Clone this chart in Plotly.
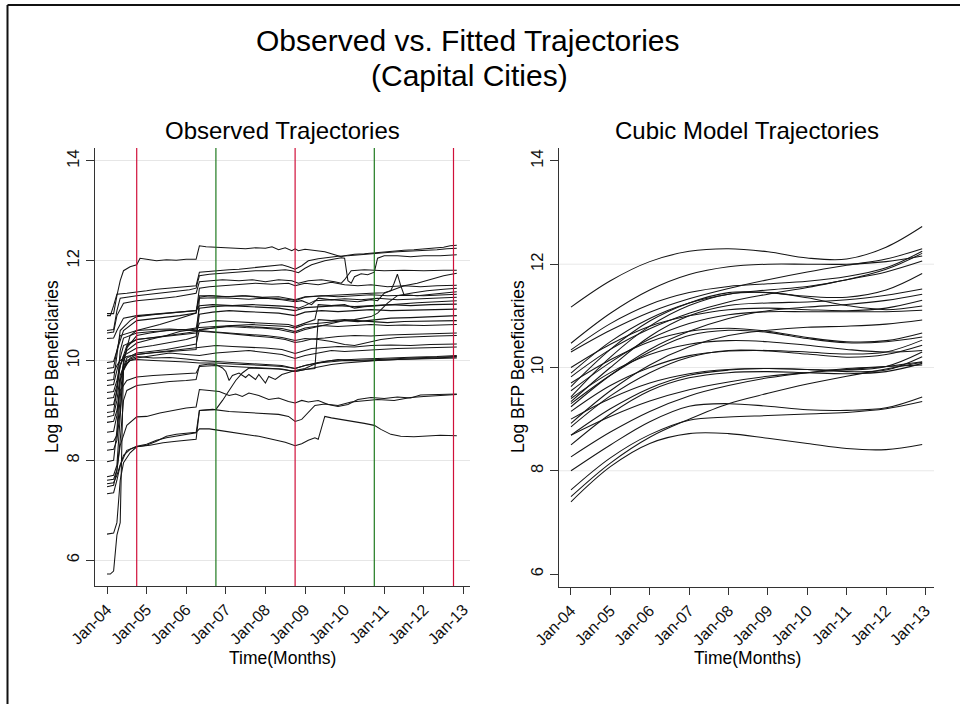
import plotly.graph_objects as go

# ---------------- data ----------------
year_ticks = [0, 12, 24, 36, 48, 60, 72, 84, 96, 108]          # months since Jan-2004
year_labels = ["Jan-04", "Jan-05", "Jan-06", "Jan-07", "Jan-08",
               "Jan-09", "Jan-10", "Jan-11", "Jan-12", "Jan-13"]
y_ticks = [6, 8, 10, 12, 14]
municipal_elections = [9, 57, 105]   # Oct-04, Oct-08, Oct-12 (red)
general_elections = [33, 81]         # Oct-06, Oct-10 (green)

# observed trajectories: (month index, log beneficiaries)
obs_A = [(0,10.94),(2,10.94),(3,11.3),(4,11.6),(5,11.8),(7,11.88),(9,11.92),(10,12.05),(12,12.03),(15,12.0),(18,12.02),(21,12.01),(24,12.03),(27,12.03),(28,12.3),(30,12.28),(33,12.27),(36,12.26),(39,12.25),(42,12.24),(45,12.26),(48,12.25),(50,12.28),(52,12.22),(54,12.26),(56,12.2),(57,12.24),(58,12.2),(60,12.23),(63,12.2),(66,12.18),(69,12.12),(71,12.08),(72,12.1),(75,12.13),(78,12.14),(81,12.16),(84,12.18),(87,12.2),(90,12.21),(93,12.22),(96,12.24),(99,12.25),(102,12.27),(104,12.3),(106,12.31)]
obs_B = [(0,10.9),(1,10.9),(2,11.1),(3,11.33),(6,11.35),(9,11.37),(12,11.4),(15,11.43),(18,11.45),(21,11.46),(24,11.48),(27,11.5),(28,11.77),(31,11.79),(34,11.8),(37,11.82),(40,11.83),(43,11.85),(46,11.86),(50,11.9),(53,11.92),(55,11.88),(57,11.83),(59,11.9),(61,12.0),(64,12.04),(67,12.07),(70,12.09),(73,12.1),(76,12.12),(80,12.14),(84,12.16),(88,12.18),(92,12.19),(96,12.21),(100,12.22),(103,12.24),(106,12.25)]
obs_C = [(0,10.6),(2,10.62),(3,11.0),(4,11.25),(9,11.3),(13,11.33),(17,11.36),(21,11.38),(25,11.42),(27,11.45),(28,11.7),(31,11.73),(35,11.75),(40,11.78),(45,11.8),(50,11.8),(54,11.82),(56,11.8),(58,11.76),(60,11.85),(62,11.92),(66,12.0),(69,12.04),(71,12.06),(72,12.05),(73,11.6),(74,11.55),(75,11.68),(77,11.74),(79,11.72),(81,11.77),(82,12.05),(84,12.1),(88,12.1),(92,12.08),(96,12.1),(101,12.1),(106,12.12)]
obs_D = [(0,10.55),(2,10.57),(3,10.9),(5,11.15),(9,11.2),(13,11.22),(17,11.25),(21,11.28),(25,11.32),(27,11.35),(28,11.58),(31,11.6),(35,11.62),(40,11.6),(44,11.62),(48,11.58),(52,11.62),(56,11.6),(58,11.55),(61,11.6),(65,11.62),(69,11.58),(71,11.55),(72,11.62),(74,11.8),(78,11.82),(84,11.8),(90,11.81),(96,11.8),(102,11.81),(106,11.81)]
obs_E = [(0,10.44),(2,10.45),(3,10.6),(5,10.85),(9,10.9),(13,10.92),(18,10.95),(22,10.98),(27,11.0),(28,11.1),(32,11.12),(38,11.1),(44,11.12),(50,11.1),(56,11.08),(58,11.05),(60,11.1),(63,11.2),(68,11.22),(72,11.2),(76,11.18),(80,11.22),(82,11.2),(84,11.35),(87,11.42),(90,11.5),(94,11.55),(98,11.62),(102,11.7),(106,11.75)]
obs_F = [(0,9.96),(2,9.98),(3,10.2),(4,10.5),(9,10.6),(12,10.65),(16,10.72),(20,10.8),(24,10.88),(27,10.95),(28,11.45),(31,11.48),(35,11.5),(40,11.52),(45,11.55),(50,11.53),(55,11.55),(57,11.5),(60,11.55),(64,11.52),(68,11.57),(72,11.52),(76,11.5),(80,11.52),(85,11.48),(90,11.5),(95,11.48),(100,11.5),(106,11.51)]
obs_G = [(0,9.84),(2,9.86),(3,10.2),(5,10.6),(9,10.8),(13,10.83),(18,10.86),(22,10.9),(27,10.95),(28,11.3),(32,11.3),(37,11.28),(42,11.3),(47,11.27),(52,11.28),(57,11.22),(60,11.28),(65,11.3),(70,11.32),(75,11.33),(80,11.35),(84,11.36),(86,11.4),(87,11.55),(88,11.73),(89,11.5),(90,11.32),(94,11.3),(98,11.33),(102,11.35),(106,11.38)]
obs_H = [(0,9.74),(2,9.76),(3,9.9),(4,10.0),(6,10.08),(9,10.12),(13,10.15),(18,10.18),(23,10.2),(27,10.22),(28,11.27),(31,11.3),(36,11.28),(41,11.3),(46,11.27),(51,11.25),(56,11.22),(57,11.2),(60,11.27),(65,11.3),(70,11.28),(75,11.3),(80,11.32),(85,11.3),(90,11.31),(96,11.3),(101,11.32),(106,11.33)]
obs_I = [(0,9.6),(2,9.62),(3,10.1),(4,10.6),(7,10.8),(9,10.88),(14,10.92),(19,10.95),(24,10.97),(27,11.0),(28,11.25),(33,11.26),(38,11.25),(43,11.23),(48,11.25),(53,11.22),(57,11.18),(59,11.2),(62,11.12),(64,11.25),(68,11.22),(72,11.24),(77,11.22),(82,11.25),(88,11.22),(94,11.24),(100,11.25),(106,11.27)]
obs_J = [(0,9.5),(2,9.52),(3,9.8),(5,10.3),(9,10.42),(14,10.46),(19,10.5),(24,10.53),(27,10.55),(28,10.75),(33,10.8),(38,10.78),(44,10.76),(50,10.75),(55,10.72),(57,10.68),(60,10.75),(62,10.8),(63,10.82),(64,11.12),(68,11.1),(72,11.12),(75,11.05),(78,11.08),(82,11.1),(88,11.14),(94,11.16),(100,11.18),(106,11.2)]
obs_K = [(0,9.36),(2,9.38),(3,9.6),(4,9.9),(6,10.2),(9,10.35),(13,10.42),(18,10.5),(22,10.58),(27,10.63),(28,11.05),(32,11.08),(37,11.1),(42,11.08),(47,11.06),(52,11.05),(57,11.0),(60,11.06),(65,11.08),(70,11.1),(75,11.08),(80,11.1),(86,11.12),(92,11.1),(98,11.12),(106,11.13)]
obs_L = [(0,9.24),(2,9.26),(3,9.5),(4,9.9),(5,10.1),(9,10.25),(14,10.3),(19,10.36),(24,10.42),(27,10.48),(28,10.93),(32,10.97),(37,11.0),(42,10.98),(47,10.96),(52,10.95),(57,10.9),(60,10.97),(65,11.0),(70,10.98),(75,11.0),(80,11.02),(86,11.0),(92,11.01),(98,11.02),(106,11.03)]
obs_Z = [(0,9.1),(2,9.12),(3,9.4),(4,9.9),(6,10.3),(9,10.42),(14,10.46),(19,10.5),(24,10.55),(27,10.58),(29,10.62),(33,10.66),(38,10.7),(44,10.72),(50,10.7),(55,10.68),(57,10.65),(60,10.72),(65,10.75),(70,10.78),(75,10.82),(80,10.88),(82,10.95),(85,11.15),(88,11.3),(92,11.35),(97,11.4),(102,11.43),(106,11.45)]
obs_N = [(0,8.96),(2,8.98),(3,9.4),(4,10.2),(5,10.45),(9,10.55),(14,10.58),(19,10.6),(24,10.62),(28,10.66),(33,10.68),(38,10.7),(43,10.68),(48,10.66),(53,10.64),(57,10.58),(60,10.65),(65,10.7),(70,10.68),(75,10.7),(80,10.72),(85,10.7),(90,10.71),(96,10.7),(101,10.71),(106,10.72)]
obs_AA = [(0,8.87),(2,8.9),(3,9.2),(4,9.7),(6,10.05),(9,10.15),(13,10.18),(18,10.22),(23,10.28),(27,10.33),(28,10.62),(32,10.65),(37,10.68),(42,10.66),(47,10.65),(52,10.62),(57,10.55),(60,10.62),(64,10.68),(68,10.75),(72,10.8),(76,10.78),(81,10.82),(86,10.85),(92,10.86),(98,10.88),(106,10.9)]
obs_M = [(0,8.76),(2,8.78),(3,9.0),(4,9.4),(6,9.6),(9,9.67),(14,9.7),(19,9.72),(24,9.74),(27,9.75),(28,9.88),(33,9.9),(38,9.88),(43,9.86),(48,9.85),(53,9.83),(57,9.78),(60,9.82),(63,9.84),(64,10.82),(68,10.8),(72,10.82),(76,10.8),(81,10.78),(85,10.76),(90,10.78),(96,10.79),(101,10.8),(106,10.8)]
obs_O = [(0,8.56),(2,8.58),(3,8.9),(4,9.6),(6,10.25),(9,10.5),(13,10.55),(18,10.6),(22,10.62),(27,10.6),(31,10.57),(35,10.55),(40,10.52),(45,10.5),(50,10.46),(54,10.42),(57,10.36),(59,10.38),(62,10.43),(66,10.45),(70,10.48),(75,10.5),(80,10.49),(85,10.51),(90,10.52),(96,10.53),(101,10.54),(106,10.55)]
obs_P = [(0,8.36),(2,8.38),(3,8.5),(4,9.2),(5,10.0),(7,10.5),(9,10.6),(14,10.62),(19,10.63),(24,10.61),(28,10.6),(33,10.57),(38,10.55),(43,10.52),(48,10.5),(53,10.46),(57,10.4),(60,10.44),(64,10.42),(68,10.38),(72,10.32),(75,10.3),(79,10.36),(83,10.42),(88,10.46),(94,10.48),(100,10.49),(106,10.5)]
obs_Q = [(0,8.2),(2,8.22),(3,8.4),(4,9.0),(5,9.8),(7,10.05),(9,10.12),(14,10.16),(19,10.2),(24,10.24),(28,10.27),(33,10.3),(38,10.28),(43,10.27),(48,10.25),(53,10.22),(57,10.14),(59,10.18),(62,10.24),(66,10.26),(70,10.28),(75,10.27),(80,10.3),(86,10.31),(92,10.3),(98,10.32),(106,10.33)]
obs_Y = [(0,7.97),(2,8.0),(3,8.6),(4,9.6),(6,10.0),(9,10.08),(14,10.05),(19,10.06),(24,10.03),(28,10.0),(33,9.98),(38,9.96),(43,9.94),(48,9.92),(53,9.9),(57,9.84),(60,9.9),(64,9.95),(68,9.98),(72,10.0),(77,9.99),(82,10.01),(88,10.02),(94,10.03),(100,10.04),(106,10.05)]
obs_R = [(0,7.67),(2,7.7),(3,7.9),(4,9.0),(5,9.85),(7,10.0),(9,10.05),(14,10.1),(19,10.15),(24,10.12),(28,10.1),(33,10.15),(38,10.18),(43,10.2),(48,10.16),(53,10.12),(57,10.04),(60,10.1),(64,10.15),(68,10.2),(72,10.18),(77,10.2),(82,10.22),(88,10.24),(94,10.25),(100,10.26),(106,10.27)]
obs_S = [(0,5.72),(1,5.72),(2,5.78),(3,6.5),(4,6.75),(5,9.9),(7,10.0),(9,10.02),(14,10.0),(19,9.99),(24,9.97),(28,9.95),(33,9.95),(38,9.93),(43,9.92),(48,9.9),(53,9.88),(57,9.84),(60,9.9),(64,9.96),(68,10.0),(72,10.02),(77,10.03),(82,10.04),(88,10.06),(94,10.07),(100,10.08),(106,10.1)]
obs_T = [(0,7.6),(2,7.62),(3,7.8),(4,8.4),(5,9.2),(6,9.4),(9,9.5),(14,9.54),(19,9.58),(24,9.6),(27,9.62),(28,9.9),(31,9.93),(33,9.92),(35,9.85),(36,9.78),(37,9.6),(38,9.7),(40,9.75),(42,9.66),(43,9.72),(45,9.62),(46,9.72),(48,9.55),(49,9.68),(51,9.62),(53,9.72),(55,9.76),(57,9.8),(60,9.84),(63,9.93),(66,9.98),(70,10.02),(75,10.0),(80,10.01),(86,10.03),(92,10.05),(98,10.06),(106,10.08)]
obs_U = [(0,7.53),(2,7.55),(3,7.7),(4,7.9),(5,8.1),(7,8.22),(9,8.28),(12,8.32),(15,8.4),(18,8.45),(21,8.48),(24,8.52),(27,8.55),(28,9.0),(33,9.02),(35,9.2),(37,9.4),(39,9.6),(41,9.75),(43,9.85),(47,9.84),(52,9.83),(57,9.78),(60,9.82),(64,9.88),(68,9.92),(72,9.95),(77,9.98),(82,10.0),(88,10.02),(94,10.04),(100,10.05),(106,10.07)]
obs_V = [(0,7.47),(2,7.5),(3,7.8),(4,8.3),(6,8.7),(9,8.87),(12,8.88),(16,8.95),(20,9.0),(24,9.05),(27,9.07),(28,9.42),(31,9.4),(34,9.38),(37,9.3),(39,9.33),(41,9.28),(43,9.35),(46,9.3),(49,9.22),(52,9.25),(55,9.18),(57,9.15),(59,9.2),(61,9.17),(64,9.2),(67,9.12),(70,9.08),(73,9.12),(76,9.22),(80,9.26),(84,9.24),(88,9.27),(92,9.25),(95,9.31),(100,9.32),(106,9.33)]
obs_W = [(0,7.33),(2,7.35),(3,7.6),(4,7.9),(6,8.2),(9,8.27),(13,8.3),(17,8.35),(21,8.38),(25,8.4),(27,8.42),(28,9.0),(32,9.02),(37,8.98),(42,8.96),(47,8.94),(52,8.92),(55,8.88),(57,8.78),(59,8.82),(61,8.95),(63,9.1),(66,9.13),(70,9.1),(74,9.17),(78,9.2),(82,9.22),(87,9.2),(92,9.26),(96,9.28),(101,9.3),(106,9.32)]
obs_X = [(0,6.52),(2,6.54),(3,6.75),(4,7.6),(5,7.95),(7,8.15),(9,8.27),(12,8.3),(15,8.38),(18,8.48),(21,8.52),(24,8.54),(27,8.56),(28,8.63),(31,8.63),(34,8.6),(38,8.56),(42,8.52),(46,8.48),(50,8.42),(54,8.36),(57,8.29),(59,8.33),(61,8.4),(63,8.45),(64,8.42),(65,8.65),(66,8.88),(68,8.85),(71,8.82),(74,8.78),(78,8.74),(81,8.7),(83,8.62),(86,8.52),(89,8.48),(93,8.47),(97,8.48),(101,8.5),(106,8.49)]

observed = [obs_A, obs_B, obs_C, obs_D, obs_E, obs_F, obs_G, obs_H, obs_I,
            obs_J, obs_K, obs_L, obs_Z, obs_N, obs_AA, obs_M, obs_O, obs_P,
            obs_Q, obs_Y, obs_R, obs_S, obs_T, obs_U, obs_V, obs_W, obs_X]

# fitted cubic trajectories, values read at each January (+ Dec-12)
fit_months = [0, 12, 24, 36, 48, 60, 72, 84, 96, 107]
fit_01 = [11.17, 11.68, 12.05, 12.25, 12.30, 12.24, 12.12, 12.10, 12.33, 12.73]
fit_02 = [10.47, 11.05, 11.50, 11.80, 11.95, 12.00, 12.00, 12.00, 12.05, 12.16]
fit_03 = [10.30, 10.72, 11.07, 11.33, 11.53, 11.70, 11.85, 11.98, 12.10, 12.30]
fit_04 = [10.34, 10.85, 11.22, 11.45, 11.57, 11.62, 11.67, 11.76, 11.93, 12.25]
fit_05 = [9.89, 10.50, 10.95, 11.25, 11.42, 11.50, 11.57, 11.70, 11.90, 12.21]
fit_06 = [9.82, 10.35, 10.75, 11.05, 11.27, 11.42, 11.55, 11.70, 11.85, 12.06]
fit_07 = [9.63, 10.35, 10.90, 11.25, 11.45, 11.45, 11.38, 11.36, 11.50, 11.82]
fit_08 = [9.43, 10.20, 10.80, 11.20, 11.42, 11.45, 11.35, 11.20, 11.12, 11.19]
fit_09 = [9.34, 10.00, 10.60, 11.00, 11.20, 11.25, 11.27, 11.31, 11.40, 11.52]
fit_10 = [9.24, 9.85, 10.35, 10.70, 10.95, 11.10, 11.17, 11.22, 11.30, 11.42]
fit_11 = [9.55, 10.10, 10.55, 10.85, 11.02, 11.08, 11.08, 11.08, 11.08, 11.11]
fit_12 = [8.92, 9.55, 10.05, 10.40, 10.62, 10.72, 10.78, 10.80, 10.84, 10.92]
fit_13 = [9.70, 10.15, 10.50, 10.70, 10.76, 10.70, 10.58, 10.50, 10.52, 10.67]
fit_14 = [9.30, 9.85, 10.30, 10.62, 10.72, 10.68, 10.56, 10.48, 10.50, 10.59]
fit_15 = [9.15, 9.65, 10.00, 10.23, 10.32, 10.33, 10.30, 10.26, 10.30, 10.53]
fit_16 = [8.85, 9.45, 9.90, 10.20, 10.33, 10.32, 10.26, 10.20, 10.25, 10.43]
fit_17 = [8.69, 9.20, 9.60, 9.85, 9.95, 9.98, 9.96, 9.95, 10.02, 10.30]
fit_18 = [9.00, 9.40, 9.70, 9.88, 9.96, 9.98, 9.96, 9.92, 9.95, 10.21]
fit_19 = [8.69, 9.05, 9.35, 9.57, 9.72, 9.83, 9.90, 9.96, 10.02, 10.11]
fit_20 = [8.27, 8.75, 9.15, 9.45, 9.65, 9.80, 9.90, 9.98, 10.02, 10.05]
fit_21 = [8.00, 8.50, 8.95, 9.25, 9.30, 9.25, 9.18, 9.17, 9.22, 9.43]
fit_22 = [7.63, 8.25, 8.70, 8.98, 9.04, 9.07, 9.10, 9.13, 9.20, 9.34]
fit_23 = [7.40, 8.08, 8.53, 8.72, 8.72, 8.63, 8.53, 8.43, 8.41, 8.51]
fit_24 = [7.50, 8.15, 8.65, 9.00, 9.30, 9.50, 9.68, 9.83, 9.97, 10.10]
fit_25 = [10.00, 10.45, 10.80, 11.00, 11.12, 11.15, 11.12, 11.10, 11.15, 11.30]
fit_26 = [9.40, 9.90, 10.25, 10.45, 10.52, 10.50, 10.43, 10.35, 10.30, 10.33]
fit_27 = [8.50, 9.10, 9.55, 9.80, 9.90, 9.92, 9.90, 9.88, 9.92, 10.08]

fitted = [fit_01, fit_02, fit_03, fit_04, fit_05, fit_06, fit_07, fit_08, fit_09,
          fit_10, fit_11, fit_12, fit_13, fit_14, fit_15, fit_16, fit_17, fit_18,
          fit_19, fit_20, fit_21, fit_22, fit_23, fit_24, fit_25, fit_26, fit_27]

# ---------------- figure ----------------
W, H = 960, 704
FONT = "Liberation Sans, Arial, Helvetica, sans-serif"
LINE = "#151515"

def px_x(p):
    return p / W

def px_y(p):
    return 1 - p / H

fig = go.Figure()

for series in observed:
    xs, ys = zip(*series)
    fig.add_trace(go.Scatter(x=list(xs), y=list(ys), mode="lines",
                             line=dict(color=LINE, width=1.05),
                             xaxis="x", yaxis="y", showlegend=False,
                             hoverinfo="skip"))

for series in fitted:
    fig.add_trace(go.Scatter(x=fit_months, y=series, mode="lines",
                             line=dict(color=LINE, width=1.05, shape="spline"),
                             xaxis="x2", yaxis="y2", showlegend=False,
                             hoverinfo="skip"))

shapes = []
for m in municipal_elections:
    shapes.append(dict(type="line", xref="x", yref="y domain", x0=m, x1=m, y0=0, y1=1,
                       line=dict(color="#d0103a", width=1.2), layer="above"))
for m in general_elections:
    shapes.append(dict(type="line", xref="x", yref="y domain", x0=m, x1=m, y0=0, y1=1,
                       line=dict(color="#1f7a1f", width=1.2), layer="above"))
# right-panel light gridlines
for v in [8, 10, 12]:
    shapes.append(dict(type="line", xref="x2 domain", yref="y2", x0=0, x1=1, y0=v, y1=v,
                       line=dict(color="#e8e8e8", width=1), layer="below"))
# outer frame (top and left)
shapes.append(dict(type="line", xref="paper", yref="paper", x0=px_x(7.5), x1=1,
                   y0=px_y(5), y1=px_y(5), line=dict(color="#111", width=2)))
shapes.append(dict(type="line", xref="paper", yref="paper", x0=px_x(7.5), x1=px_x(7.5),
                   y0=0, y1=px_y(5), line=dict(color="#111", width=2)))

axis_common = dict(showline=True, linecolor="#333", linewidth=1.2, ticks="outside",
                   tickcolor="#333", tickwidth=1.2, zeroline=False, automargin=False)

xaxis_common = dict(axis_common, tickvals=year_ticks, ticktext=year_labels,
                    tickangle=-45, ticklen=7, showgrid=False,
                    tickfont=dict(family=FONT, size=16, color="#111"))
yaxis_common = dict(axis_common, tickvals=y_ticks, tickangle=-90, ticklen=8,
                    tickfont=dict(family=FONT, size=16.5, color="#111"))

annotations = [
    dict(text="Observed vs. Fitted Trajectories", x=px_x(468), y=px_y(40.5),
         font=dict(size=30)),
    dict(text="(Capital Cities)", x=px_x(469), y=px_y(76), font=dict(size=30)),
    dict(text="Observed Trajectories", x=px_x(282.5), y=px_y(130), font=dict(size=24)),
    dict(text="Cubic Model Trajectories", x=px_x(746.5), y=px_y(130), font=dict(size=24)),
    dict(text="Time(Months)", x=px_x(282), y=px_y(658), font=dict(size=17.5)),
    dict(text="Time(Months)", x=px_x(747), y=px_y(658), font=dict(size=17.5)),
    dict(text="Log BFP Beneficiaries", x=px_x(52), y=px_y(367), textangle=-90,
         font=dict(size=17.5)),
    dict(text="Log BFP Beneficiaries", x=px_x(518), y=px_y(367), textangle=-90,
         font=dict(size=17.5)),
]
for a in annotations:
    a.update(xref="paper", yref="paper", showarrow=False, xanchor="center",
             yanchor="middle")
    a["font"] = dict(family=FONT, color="#000", size=a["font"]["size"])

fig.update_layout(
    width=W, height=H,
    margin=dict(l=0, r=0, t=0, b=0),
    paper_bgcolor="white", plot_bgcolor="white",
    showlegend=False,
    font=dict(family=FONT, color="#111"),
    xaxis=dict(xaxis_common, domain=[px_x(95), px_x(470)], range=[-3.64, 110.0],
               anchor="y"),
    yaxis=dict(yaxis_common, domain=[px_y(586), px_y(148)], range=[5.48, 14.26],
               showgrid=True, gridcolor="#e6e6e6", gridwidth=1, anchor="x"),
    xaxis2=dict(xaxis_common, domain=[px_x(559), px_x(934)], range=[-3.65, 110.6],
                anchor="y2"),
    yaxis2=dict(yaxis_common, domain=[px_y(587), px_y(148)], range=[5.75, 14.25],
                showgrid=False, anchor="x2"),
    shapes=shapes,
    annotations=annotations,
)

fig.write_html("out.html")
